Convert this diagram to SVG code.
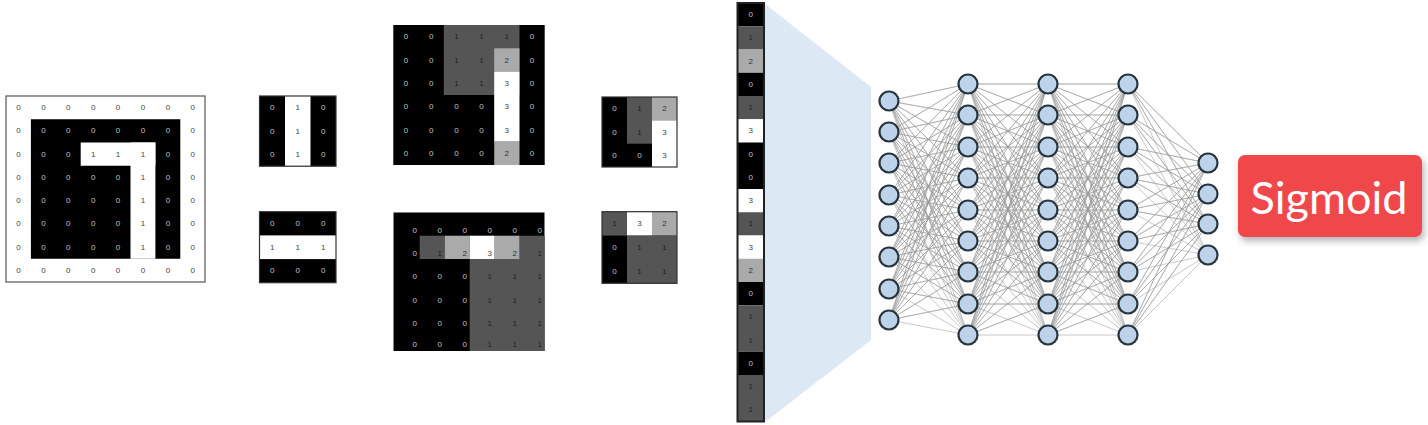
<svg xmlns="http://www.w3.org/2000/svg" width="1428" height="425" viewBox="0 0 1428 425">
<style>
text{font-family:"Liberation Sans",Arial,sans-serif;font-size:8px;text-anchor:middle;dominant-baseline:central}
.k{fill:#c4c4c4}.w{fill:#444}.g{fill:#222}.s{fill:#333}
.node{fill:#bcd3ea;stroke:#27333d;stroke-width:2.2}
.edge{fill:none;stroke:#999;stroke-width:0.75;stroke-opacity:0.7;stroke-linejoin:round}
.blk{fill:#000}.gry{fill:#555}.lgr{fill:#aaa}.wht{fill:#fff}
.frame{fill:none;stroke:#333;stroke-width:1.2}
.lbl{font-family:Lato,"Open Sans",sans-serif;font-size:45px;fill:#fff;text-anchor:middle;dominant-baseline:auto}
</style>
<defs>
<clipPath id="cfh"><rect x="393.3" y="212.3" width="151.4" height="138.7"/></clipPath>
<filter id="sh" x="-20%" y="-30%" width="140%" height="170%"><feDropShadow dx="2" dy="4" stdDeviation="3.5" flood-color="#000" flood-opacity="0.3"/></filter>
</defs>
<rect width="1428" height="425" fill="#fff"/>

<g id="input">
<rect x="6" y="96" width="199" height="186" fill="#fff" stroke="#555" stroke-width="1.2"/>
<rect class="blk" x="30.9" y="119.25" width="149.4" height="139.5"/>
<rect class="wht" x="80.7" y="142.5" width="74.7" height="23.25"/>
<rect class="wht" x="130.5" y="142.5" width="24.9" height="116.25"/>
<text class="w" x="18.5" y="107.6">0</text><text class="w" x="43.4" y="107.6">0</text><text class="w" x="68.3" y="107.6">0</text><text class="w" x="93.2" y="107.6">0</text><text class="w" x="118.1" y="107.6">0</text><text class="w" x="143" y="107.6">0</text><text class="w" x="167.9" y="107.6">0</text><text class="w" x="192.8" y="107.6">0</text>
<text class="w" x="18.5" y="130.9">0</text><text class="k" x="43.4" y="130.9">0</text><text class="k" x="68.3" y="130.9">0</text><text class="k" x="93.2" y="130.9">0</text><text class="k" x="118.1" y="130.9">0</text><text class="k" x="143" y="130.9">0</text><text class="k" x="167.9" y="130.9">0</text><text class="w" x="192.8" y="130.9">0</text>
<text class="w" x="18.5" y="154.1">0</text><text class="k" x="43.4" y="154.1">0</text><text class="k" x="68.3" y="154.1">0</text><text class="w" x="93.2" y="154.1">1</text><text class="w" x="118.1" y="154.1">1</text><text class="w" x="143" y="154.1">1</text><text class="k" x="167.9" y="154.1">0</text><text class="w" x="192.8" y="154.1">0</text>
<text class="w" x="18.5" y="177.4">0</text><text class="k" x="43.4" y="177.4">0</text><text class="k" x="68.3" y="177.4">0</text><text class="k" x="93.2" y="177.4">0</text><text class="k" x="118.1" y="177.4">0</text><text class="w" x="143" y="177.4">1</text><text class="k" x="167.9" y="177.4">0</text><text class="w" x="192.8" y="177.4">0</text>
<text class="w" x="18.5" y="200.6">0</text><text class="k" x="43.4" y="200.6">0</text><text class="k" x="68.3" y="200.6">0</text><text class="k" x="93.2" y="200.6">0</text><text class="k" x="118.1" y="200.6">0</text><text class="w" x="143" y="200.6">1</text><text class="k" x="167.9" y="200.6">0</text><text class="w" x="192.8" y="200.6">0</text>
<text class="w" x="18.5" y="223.9">0</text><text class="k" x="43.4" y="223.9">0</text><text class="k" x="68.3" y="223.9">0</text><text class="k" x="93.2" y="223.9">0</text><text class="k" x="118.1" y="223.9">0</text><text class="w" x="143" y="223.9">1</text><text class="k" x="167.9" y="223.9">0</text><text class="w" x="192.8" y="223.9">0</text>
<text class="w" x="18.5" y="247.1">0</text><text class="k" x="43.4" y="247.1">0</text><text class="k" x="68.3" y="247.1">0</text><text class="k" x="93.2" y="247.1">0</text><text class="k" x="118.1" y="247.1">0</text><text class="w" x="143" y="247.1">1</text><text class="k" x="167.9" y="247.1">0</text><text class="w" x="192.8" y="247.1">0</text>
<text class="w" x="18.5" y="270.4">0</text><text class="w" x="43.4" y="270.4">0</text><text class="w" x="68.3" y="270.4">0</text><text class="w" x="93.2" y="270.4">0</text><text class="w" x="118.1" y="270.4">0</text><text class="w" x="143" y="270.4">0</text><text class="w" x="167.9" y="270.4">0</text><text class="w" x="192.8" y="270.4">0</text>
</g>

<g id="kernel-vertical">
<rect class="blk" x="259.5" y="96" width="76.5" height="70.2"/>
<rect class="wht" x="285" y="96" width="25.5" height="70.2"/>
<rect class="frame" x="259.5" y="96" width="76.5" height="70.2"/>
<text class="k" x="272.3" y="107.7">0</text><text class="w" x="297.8" y="107.7">1</text><text class="k" x="323.3" y="107.7">0</text>
<text class="k" x="272.3" y="131.1">0</text><text class="w" x="297.8" y="131.1">1</text><text class="k" x="323.3" y="131.1">0</text>
<text class="k" x="272.3" y="154.5">0</text><text class="w" x="297.8" y="154.5">1</text><text class="k" x="323.3" y="154.5">0</text>
</g>

<g id="kernel-horizontal">
<rect class="blk" x="259.5" y="211.7" width="76.5" height="71"/>
<rect class="wht" x="259.5" y="235.4" width="76.5" height="23.7"/>
<rect class="frame" x="259.5" y="211.7" width="76.5" height="71"/>
<text class="k" x="272.3" y="223.5">0</text><text class="k" x="297.8" y="223.5">0</text><text class="k" x="323.3" y="223.5">0</text>
<text class="w" x="272.3" y="247.2">1</text><text class="w" x="297.8" y="247.2">1</text><text class="w" x="323.3" y="247.2">1</text>
<text class="k" x="272.3" y="270.9">0</text><text class="k" x="297.8" y="270.9">0</text><text class="k" x="323.3" y="270.9">0</text>
</g>

<g id="feature-map-vertical">
<rect class="blk" x="393.3" y="25" width="151.4" height="140"/>
<rect class="gry" x="443.8" y="25" width="75.7" height="70"/>
<rect class="lgr" x="494.2" y="48.3" width="25.3" height="23.4"/>
<rect class="wht" x="494.2" y="71.7" width="25.3" height="70"/>
<rect class="lgr" x="494.2" y="141.7" width="25.3" height="23.3"/>
<text class="k" x="405.9" y="36.7">0</text><text class="k" x="431.2" y="36.7">0</text><text class="g" x="456.4" y="36.7">1</text><text class="g" x="481.6" y="36.7">1</text><text class="g" x="506.8" y="36.7">1</text><text class="k" x="532.1" y="36.7">0</text>
<text class="k" x="405.9" y="60">0</text><text class="k" x="431.2" y="60">0</text><text class="g" x="456.4" y="60">1</text><text class="g" x="481.6" y="60">1</text><text class="s" x="506.8" y="60">2</text><text class="k" x="532.1" y="60">0</text>
<text class="k" x="405.9" y="83.3">0</text><text class="k" x="431.2" y="83.3">0</text><text class="g" x="456.4" y="83.3">1</text><text class="g" x="481.6" y="83.3">1</text><text class="w" x="506.8" y="83.3">3</text><text class="k" x="532.1" y="83.3">0</text>
<text class="k" x="405.9" y="106.7">0</text><text class="k" x="431.2" y="106.7">0</text><text class="k" x="456.4" y="106.7">0</text><text class="k" x="481.6" y="106.7">0</text><text class="w" x="506.8" y="106.7">3</text><text class="k" x="532.1" y="106.7">0</text>
<text class="k" x="405.9" y="130">0</text><text class="k" x="431.2" y="130">0</text><text class="k" x="456.4" y="130">0</text><text class="k" x="481.6" y="130">0</text><text class="w" x="506.8" y="130">3</text><text class="k" x="532.1" y="130">0</text>
<text class="k" x="405.9" y="153.3">0</text><text class="k" x="431.2" y="153.3">0</text><text class="k" x="456.4" y="153.3">0</text><text class="k" x="481.6" y="153.3">0</text><text class="s" x="506.8" y="153.3">2</text><text class="k" x="532.1" y="153.3">0</text>
</g>

<g id="feature-map-horizontal">
<g clip-path="url(#cfh)">
<rect class="blk" x="393.3" y="212.3" width="151.4" height="138.7"/>
<rect class="gry" x="419.7" y="235.7" width="25" height="23.3"/>
<rect class="lgr" x="444.7" y="235.7" width="25" height="23.3"/>
<rect class="wht" x="469.7" y="235.7" width="25" height="23.3"/>
<rect class="lgr" x="494.7" y="235.7" width="25" height="23.3"/>
<rect class="gry" x="519.7" y="235.7" width="25.3" height="23.3"/>
<rect class="gry" x="469.7" y="259" width="75.3" height="92"/>
<text class="k" x="414.7" y="230">0</text><text class="k" x="439.7" y="230">0</text><text class="k" x="464.7" y="230">0</text><text class="k" x="489.7" y="230">0</text><text class="k" x="514.7" y="230">0</text><text class="k" x="539.7" y="230">0</text>
<text class="k" x="414.7" y="253.3">0</text><text class="g" x="439.7" y="253.3">1</text><text class="s" x="464.7" y="253.3">2</text><text class="w" x="489.7" y="253.3">3</text><text class="s" x="514.7" y="253.3">2</text><text class="g" x="539.7" y="253.3">1</text>
<text class="k" x="414.7" y="276.7">0</text><text class="k" x="439.7" y="276.7">0</text><text class="k" x="464.7" y="276.7">0</text><text class="g" x="489.7" y="276.7">1</text><text class="g" x="514.7" y="276.7">1</text><text class="g" x="539.7" y="276.7">1</text>
<text class="k" x="414.7" y="300">0</text><text class="k" x="439.7" y="300">0</text><text class="k" x="464.7" y="300">0</text><text class="g" x="489.7" y="300">1</text><text class="g" x="514.7" y="300">1</text><text class="g" x="539.7" y="300">1</text>
<text class="k" x="414.7" y="323.3">0</text><text class="k" x="439.7" y="323.3">0</text><text class="k" x="464.7" y="323.3">0</text><text class="g" x="489.7" y="323.3">1</text><text class="g" x="514.7" y="323.3">1</text><text class="g" x="539.7" y="323.3">1</text>
<text class="k" x="414.7" y="344">0</text><text class="k" x="439.7" y="344">0</text><text class="k" x="464.7" y="344">0</text><text class="g" x="489.7" y="344">1</text><text class="g" x="514.7" y="344">1</text><text class="g" x="539.7" y="344">1</text>
</g>
</g>

<g id="pooled-vertical">
<rect class="blk" x="602" y="97" width="75" height="70"/>
<rect class="gry" x="627" y="97" width="25" height="46.7"/>
<rect class="lgr" x="652" y="97" width="25" height="23.3"/>
<rect class="wht" x="652" y="120.3" width="25" height="46.7"/>
<rect class="frame" x="602" y="97" width="75" height="70"/>
<text class="k" x="614.5" y="108.7">0</text><text class="g" x="639.5" y="108.7">1</text><text class="s" x="664.5" y="108.7">2</text>
<text class="k" x="614.5" y="132">0</text><text class="g" x="639.5" y="132">1</text><text class="w" x="664.5" y="132">3</text>
<text class="k" x="614.5" y="155.3">0</text><text class="k" x="639.5" y="155.3">0</text><text class="w" x="664.5" y="155.3">3</text>
</g>

<g id="pooled-horizontal">
<rect class="blk" x="602" y="211.7" width="75" height="71.6"/>
<rect class="gry" x="602" y="211.7" width="25" height="23.9"/>
<rect class="wht" x="627" y="211.7" width="25" height="23.9"/>
<rect class="lgr" x="652" y="211.7" width="25" height="23.9"/>
<rect class="gry" x="627" y="235.6" width="50" height="47.7"/>
<rect class="frame" x="602" y="211.7" width="75" height="71.6"/>
<text class="g" x="614.5" y="223.6">1</text><text class="w" x="639.5" y="223.6">3</text><text class="s" x="664.5" y="223.6">2</text>
<text class="k" x="614.5" y="247.5">0</text><text class="g" x="639.5" y="247.5">1</text><text class="g" x="664.5" y="247.5">1</text>
<text class="k" x="614.5" y="271.4">0</text><text class="g" x="639.5" y="271.4">1</text><text class="g" x="664.5" y="271.4">1</text>
</g>

<g id="projection">
<polygon points="765,4 871,87 871,340 765,422" fill="#dce8f4"/>
</g>

<g id="flatten">
<rect class="blk" x="737.5" y="3" width="26.5" height="23.25"/>
<rect class="gry" x="737.5" y="26.25" width="26.5" height="23.25"/>
<rect class="lgr" x="737.5" y="49.5" width="26.5" height="23.25"/>
<rect class="blk" x="737.5" y="72.75" width="26.5" height="23.25"/>
<rect class="gry" x="737.5" y="96" width="26.5" height="23.25"/>
<rect class="wht" x="737.5" y="119.25" width="26.5" height="23.25"/>
<rect class="blk" x="737.5" y="142.5" width="26.5" height="46.5"/>
<rect class="wht" x="737.5" y="189" width="26.5" height="23.25"/>
<rect class="gry" x="737.5" y="212.25" width="26.5" height="23.25"/>
<rect class="wht" x="737.5" y="235.5" width="26.5" height="23.25"/>
<rect class="lgr" x="737.5" y="258.75" width="26.5" height="23.25"/>
<rect class="blk" x="737.5" y="282" width="26.5" height="23.25"/>
<rect class="gry" x="737.5" y="305.25" width="26.5" height="46.5"/>
<rect class="blk" x="737.5" y="351.75" width="26.5" height="23.25"/>
<rect class="gry" x="737.5" y="375" width="26.5" height="46.5"/>
<rect x="737.5" y="3" width="26.5" height="418.5" fill="none" stroke="#222" stroke-width="2"/>
<text class="k" x="750.75" y="14.6">0</text>
<text class="g" x="750.75" y="37.9">1</text>
<text class="s" x="750.75" y="61.1">2</text>
<text class="k" x="750.75" y="84.4">0</text>
<text class="g" x="750.75" y="107.6">1</text>
<text class="w" x="750.75" y="130.9">3</text>
<text class="k" x="750.75" y="154.1">0</text>
<text class="k" x="750.75" y="177.4">0</text>
<text class="w" x="750.75" y="200.6">3</text>
<text class="g" x="750.75" y="223.9">1</text>
<text class="w" x="750.75" y="247.1">3</text>
<text class="s" x="750.75" y="270.4">2</text>
<text class="k" x="750.75" y="293.6">0</text>
<text class="g" x="750.75" y="316.9">1</text>
<text class="g" x="750.75" y="340.1">1</text>
<text class="k" x="750.75" y="363.4">0</text>
<text class="g" x="750.75" y="386.6">1</text>
<text class="g" x="750.75" y="409.9">1</text>
</g>

<g id="connectors">
<path id="fc12" class="edge" d="M889 101 968 84 889 101 968 115 889 101 968 147 889 101 968 178 889 101 968 210 889 101 968 241 889 101 968 272 889 101 968 304 889 101 968 335M889 132 968 84 889 132 968 115 889 132 968 147 889 132 968 178 889 132 968 210 889 132 968 241 889 132 968 272 889 132 968 304 889 132 968 335M889 163 968 84 889 163 968 115 889 163 968 147 889 163 968 178 889 163 968 210 889 163 968 241 889 163 968 272 889 163 968 304 889 163 968 335M889 195 968 84 889 195 968 115 889 195 968 147 889 195 968 178 889 195 968 210 889 195 968 241 889 195 968 272 889 195 968 304 889 195 968 335M889 226 968 84 889 226 968 115 889 226 968 147 889 226 968 178 889 226 968 210 889 226 968 241 889 226 968 272 889 226 968 304 889 226 968 335M889 257 968 84 889 257 968 115 889 257 968 147 889 257 968 178 889 257 968 210 889 257 968 241 889 257 968 272 889 257 968 304 889 257 968 335M889 289 968 84 889 289 968 115 889 289 968 147 889 289 968 178 889 289 968 210 889 289 968 241 889 289 968 272 889 289 968 304 889 289 968 335M889 320 968 84 889 320 968 115 889 320 968 147 889 320 968 178 889 320 968 210 889 320 968 241 889 320 968 272 889 320 968 304 889 320 968 335"/>
<path id="fc23" class="edge" d="M968 84 1048 84 968 84 1048 115 968 84 1048 147 968 84 1048 178 968 84 1048 210 968 84 1048 241 968 84 1048 272 968 84 1048 304 968 84 1048 335M968 115 1048 84 968 115 1048 115 968 115 1048 147 968 115 1048 178 968 115 1048 210 968 115 1048 241 968 115 1048 272 968 115 1048 304 968 115 1048 335M968 147 1048 84 968 147 1048 115 968 147 1048 147 968 147 1048 178 968 147 1048 210 968 147 1048 241 968 147 1048 272 968 147 1048 304 968 147 1048 335M968 178 1048 84 968 178 1048 115 968 178 1048 147 968 178 1048 178 968 178 1048 210 968 178 1048 241 968 178 1048 272 968 178 1048 304 968 178 1048 335M968 210 1048 84 968 210 1048 115 968 210 1048 147 968 210 1048 178 968 210 1048 210 968 210 1048 241 968 210 1048 272 968 210 1048 304 968 210 1048 335M968 241 1048 84 968 241 1048 115 968 241 1048 147 968 241 1048 178 968 241 1048 210 968 241 1048 241 968 241 1048 272 968 241 1048 304 968 241 1048 335M968 272 1048 84 968 272 1048 115 968 272 1048 147 968 272 1048 178 968 272 1048 210 968 272 1048 241 968 272 1048 272 968 272 1048 304 968 272 1048 335M968 304 1048 84 968 304 1048 115 968 304 1048 147 968 304 1048 178 968 304 1048 210 968 304 1048 241 968 304 1048 272 968 304 1048 304 968 304 1048 335M968 335 1048 84 968 335 1048 115 968 335 1048 147 968 335 1048 178 968 335 1048 210 968 335 1048 241 968 335 1048 272 968 335 1048 304 968 335 1048 335"/>
<use href="#fc23" x="80"/>
<path id="fc4o" class="edge" d="M1128 84 1208 163 1128 84 1208 194 1128 84 1208 224 1128 84 1208 255M1128 115 1208 163 1128 115 1208 194 1128 115 1208 224 1128 115 1208 255M1128 147 1208 163 1128 147 1208 194 1128 147 1208 224 1128 147 1208 255M1128 178 1208 163 1128 178 1208 194 1128 178 1208 224 1128 178 1208 255M1128 210 1208 163 1128 210 1208 194 1128 210 1208 224 1128 210 1208 255M1128 241 1208 163 1128 241 1208 194 1128 241 1208 224 1128 241 1208 255M1128 272 1208 163 1128 272 1208 194 1128 272 1208 224 1128 272 1208 255M1128 304 1208 163 1128 304 1208 194 1128 304 1208 224 1128 304 1208 255M1128 335 1208 163 1128 335 1208 194 1128 335 1208 224 1128 335 1208 255"/>
</g>

<g id="layer1">
<g id="n1-1"><circle class="node" cx="889" cy="101" r="9.5"/></g>
<g id="n1-2"><circle class="node" cx="889" cy="132" r="9.5"/></g>
<g id="n1-3"><circle class="node" cx="889" cy="163" r="9.5"/></g>
<g id="n1-4"><circle class="node" cx="889" cy="195" r="9.5"/></g>
<g id="n1-5"><circle class="node" cx="889" cy="226" r="9.5"/></g>
<g id="n1-6"><circle class="node" cx="889" cy="257" r="9.5"/></g>
<g id="n1-7"><circle class="node" cx="889" cy="289" r="9.5"/></g>
<g id="n1-8"><circle class="node" cx="889" cy="320" r="9.5"/></g>
</g>
<g id="layer2">
<g id="n2-1"><circle class="node" cx="968" cy="84" r="9.5"/></g>
<g id="n2-2"><circle class="node" cx="968" cy="115" r="9.5"/></g>
<g id="n2-3"><circle class="node" cx="968" cy="147" r="9.5"/></g>
<g id="n2-4"><circle class="node" cx="968" cy="178" r="9.5"/></g>
<g id="n2-5"><circle class="node" cx="968" cy="210" r="9.5"/></g>
<g id="n2-6"><circle class="node" cx="968" cy="241" r="9.5"/></g>
<g id="n2-7"><circle class="node" cx="968" cy="272" r="9.5"/></g>
<g id="n2-8"><circle class="node" cx="968" cy="304" r="9.5"/></g>
<g id="n2-9"><circle class="node" cx="968" cy="335" r="9.5"/></g>
</g>
<g id="layer3">
<g id="n3-1"><circle class="node" cx="1048" cy="84" r="9.5"/></g>
<g id="n3-2"><circle class="node" cx="1048" cy="115" r="9.5"/></g>
<g id="n3-3"><circle class="node" cx="1048" cy="147" r="9.5"/></g>
<g id="n3-4"><circle class="node" cx="1048" cy="178" r="9.5"/></g>
<g id="n3-5"><circle class="node" cx="1048" cy="210" r="9.5"/></g>
<g id="n3-6"><circle class="node" cx="1048" cy="241" r="9.5"/></g>
<g id="n3-7"><circle class="node" cx="1048" cy="272" r="9.5"/></g>
<g id="n3-8"><circle class="node" cx="1048" cy="304" r="9.5"/></g>
<g id="n3-9"><circle class="node" cx="1048" cy="335" r="9.5"/></g>
</g>
<g id="layer4">
<g id="n4-1"><circle class="node" cx="1128" cy="84" r="9.5"/></g>
<g id="n4-2"><circle class="node" cx="1128" cy="115" r="9.5"/></g>
<g id="n4-3"><circle class="node" cx="1128" cy="147" r="9.5"/></g>
<g id="n4-4"><circle class="node" cx="1128" cy="178" r="9.5"/></g>
<g id="n4-5"><circle class="node" cx="1128" cy="210" r="9.5"/></g>
<g id="n4-6"><circle class="node" cx="1128" cy="241" r="9.5"/></g>
<g id="n4-7"><circle class="node" cx="1128" cy="272" r="9.5"/></g>
<g id="n4-8"><circle class="node" cx="1128" cy="304" r="9.5"/></g>
<g id="n4-9"><circle class="node" cx="1128" cy="335" r="9.5"/></g>
</g>
<g id="output-layer">
<g id="no-1"><circle class="node" cx="1208" cy="163" r="9.5"/></g>
<g id="no-2"><circle class="node" cx="1208" cy="194" r="9.5"/></g>
<g id="no-3"><circle class="node" cx="1208" cy="224" r="9.5"/></g>
<g id="no-4"><circle class="node" cx="1208" cy="255" r="9.5"/></g>
</g>

<g id="sigmoid">
<rect x="1238" y="155" width="184" height="82" rx="7" fill="#f0464b" filter="url(#sh)"/>
<text class="lbl" x="1329" y="214">Sigmoid</text>
</g>
</svg>
